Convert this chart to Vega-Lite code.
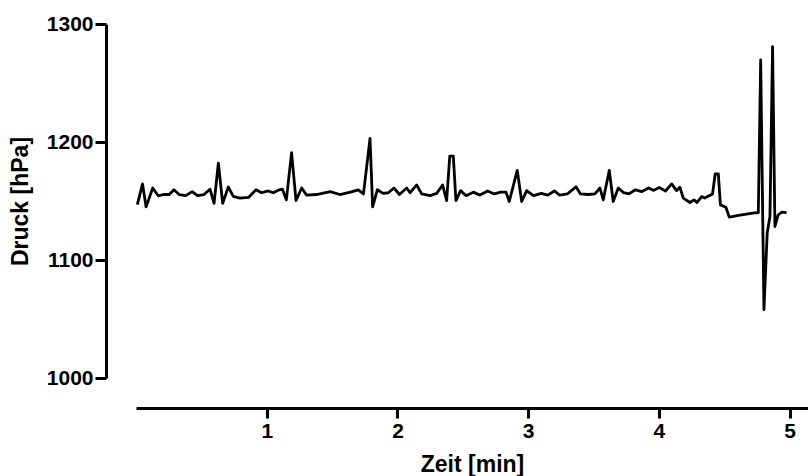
{
  "$schema": "https://vega.github.io/schema/vega-lite/v6.json",
  "width": 672,
  "height": 354,
  "autosize": {"type": "none"},
  "padding": {"left": 136, "top": 24, "right": 0, "bottom": 98},
  "background": "white",
  "config": {
    "view": {"stroke": null},
    "axis": {
      "grid": false,
      "domainColor": "black",
      "domainWidth": 3,
      "tickColor": "black",
      "tickWidth": 3,
      "tickSize": 10,
      "labelFont": "Liberation Sans",
      "labelFontWeight": "bold",
      "labelFontSize": 21,
      "labelColor": "black",
      "titleFont": "Liberation Sans",
      "titleFontWeight": "bold",
      "titleFontSize": 23,
      "titleColor": "black",
      "offset": 30
    }
  },
  "data": {
    "values": [
      {"t": 0.01, "p": 1147},
      {"t": 0.05, "p": 1164.5},
      {"t": 0.077, "p": 1145},
      {"t": 0.128, "p": 1161},
      {"t": 0.17, "p": 1154.4},
      {"t": 0.21, "p": 1155.5},
      {"t": 0.255, "p": 1155.5},
      {"t": 0.29, "p": 1159.5},
      {"t": 0.33, "p": 1155.5},
      {"t": 0.38, "p": 1154.5},
      {"t": 0.43, "p": 1158},
      {"t": 0.47, "p": 1154.5},
      {"t": 0.52, "p": 1155.5},
      {"t": 0.566, "p": 1160},
      {"t": 0.597, "p": 1148},
      {"t": 0.63, "p": 1182},
      {"t": 0.663, "p": 1148},
      {"t": 0.706, "p": 1162},
      {"t": 0.744, "p": 1154},
      {"t": 0.795, "p": 1152.4},
      {"t": 0.86, "p": 1153},
      {"t": 0.918, "p": 1159.5},
      {"t": 0.96, "p": 1157},
      {"t": 1.01, "p": 1158.5},
      {"t": 1.05, "p": 1157},
      {"t": 1.096, "p": 1159.5},
      {"t": 1.12, "p": 1160},
      {"t": 1.15, "p": 1151},
      {"t": 1.19, "p": 1191},
      {"t": 1.224, "p": 1150.4},
      {"t": 1.267, "p": 1161},
      {"t": 1.305, "p": 1155},
      {"t": 1.38, "p": 1155.5},
      {"t": 1.484, "p": 1158},
      {"t": 1.56, "p": 1155.5},
      {"t": 1.64, "p": 1157.5},
      {"t": 1.70, "p": 1159.5},
      {"t": 1.74, "p": 1156},
      {"t": 1.79, "p": 1203},
      {"t": 1.81, "p": 1145},
      {"t": 1.846, "p": 1159.5},
      {"t": 1.89, "p": 1156.5},
      {"t": 1.93, "p": 1157},
      {"t": 1.973, "p": 1161},
      {"t": 2.015, "p": 1155.5},
      {"t": 2.07, "p": 1161},
      {"t": 2.096, "p": 1157},
      {"t": 2.147, "p": 1163.6},
      {"t": 2.185, "p": 1156},
      {"t": 2.25, "p": 1154.5},
      {"t": 2.30, "p": 1156.5},
      {"t": 2.345, "p": 1163.6},
      {"t": 2.376, "p": 1150.4},
      {"t": 2.40, "p": 1188},
      {"t": 2.427, "p": 1188},
      {"t": 2.447, "p": 1150.4},
      {"t": 2.483, "p": 1158.8},
      {"t": 2.525, "p": 1154.5},
      {"t": 2.58, "p": 1157.5},
      {"t": 2.63, "p": 1155},
      {"t": 2.69, "p": 1158.5},
      {"t": 2.74, "p": 1156},
      {"t": 2.79, "p": 1157.5},
      {"t": 2.83, "p": 1157.5},
      {"t": 2.855, "p": 1149.6},
      {"t": 2.916, "p": 1176},
      {"t": 2.95, "p": 1149.6},
      {"t": 2.988, "p": 1158.8},
      {"t": 3.04, "p": 1154.5},
      {"t": 3.10, "p": 1156.5},
      {"t": 3.15, "p": 1155},
      {"t": 3.2, "p": 1158.5},
      {"t": 3.24, "p": 1155},
      {"t": 3.30, "p": 1156},
      {"t": 3.365, "p": 1162},
      {"t": 3.40, "p": 1156},
      {"t": 3.46, "p": 1155.5},
      {"t": 3.51, "p": 1156},
      {"t": 3.549, "p": 1161},
      {"t": 3.574, "p": 1151},
      {"t": 3.62, "p": 1176},
      {"t": 3.65, "p": 1149.6},
      {"t": 3.689, "p": 1161},
      {"t": 3.73, "p": 1157},
      {"t": 3.77, "p": 1156},
      {"t": 3.82, "p": 1159.5},
      {"t": 3.87, "p": 1158},
      {"t": 3.92, "p": 1161},
      {"t": 3.96, "p": 1159},
      {"t": 4.002, "p": 1161.4},
      {"t": 4.05, "p": 1158.5},
      {"t": 4.097, "p": 1164.5},
      {"t": 4.135, "p": 1158.8},
      {"t": 4.16, "p": 1161.7},
      {"t": 4.186, "p": 1152.4},
      {"t": 4.237, "p": 1148.7},
      {"t": 4.268, "p": 1151},
      {"t": 4.29, "p": 1148.7},
      {"t": 4.327, "p": 1153.8},
      {"t": 4.35, "p": 1152.5},
      {"t": 4.41, "p": 1156},
      {"t": 4.43, "p": 1173},
      {"t": 4.454, "p": 1173},
      {"t": 4.47, "p": 1146.7},
      {"t": 4.512, "p": 1144.7},
      {"t": 4.538, "p": 1136.3},
      {"t": 4.62, "p": 1138},
      {"t": 4.73, "p": 1140},
      {"t": 4.76, "p": 1140.2},
      {"t": 4.778, "p": 1269.5},
      {"t": 4.803, "p": 1057.8},
      {"t": 4.828, "p": 1122.8},
      {"t": 4.849, "p": 1136.8},
      {"t": 4.869, "p": 1280.8},
      {"t": 4.887, "p": 1128.4},
      {"t": 4.912, "p": 1138.3},
      {"t": 4.94, "p": 1140.5},
      {"t": 4.976, "p": 1140.2}
    ]
  },
  "mark": {"type": "line", "color": "black", "strokeWidth": 2.8, "strokeJoin": "round"},
  "encoding": {
    "x": {
      "field": "t",
      "type": "quantitative",
      "scale": {"domain": [0, 5.14], "nice": false, "zero": false},
      "axis": {"values": [1, 2, 3, 4, 5], "format": "d", "title": "Zeit [min]", "labelPadding": 2, "titlePadding": 12}
    },
    "y": {
      "field": "p",
      "type": "quantitative",
      "scale": {"domain": [1000, 1300], "nice": false, "zero": false},
      "axis": {"values": [1000, 1100, 1200, 1300], "format": "d", "title": "Druck [hPa]", "labelPadding": 2, "titlePadding": 14, "tickSize": 11}
    }
  }
}
